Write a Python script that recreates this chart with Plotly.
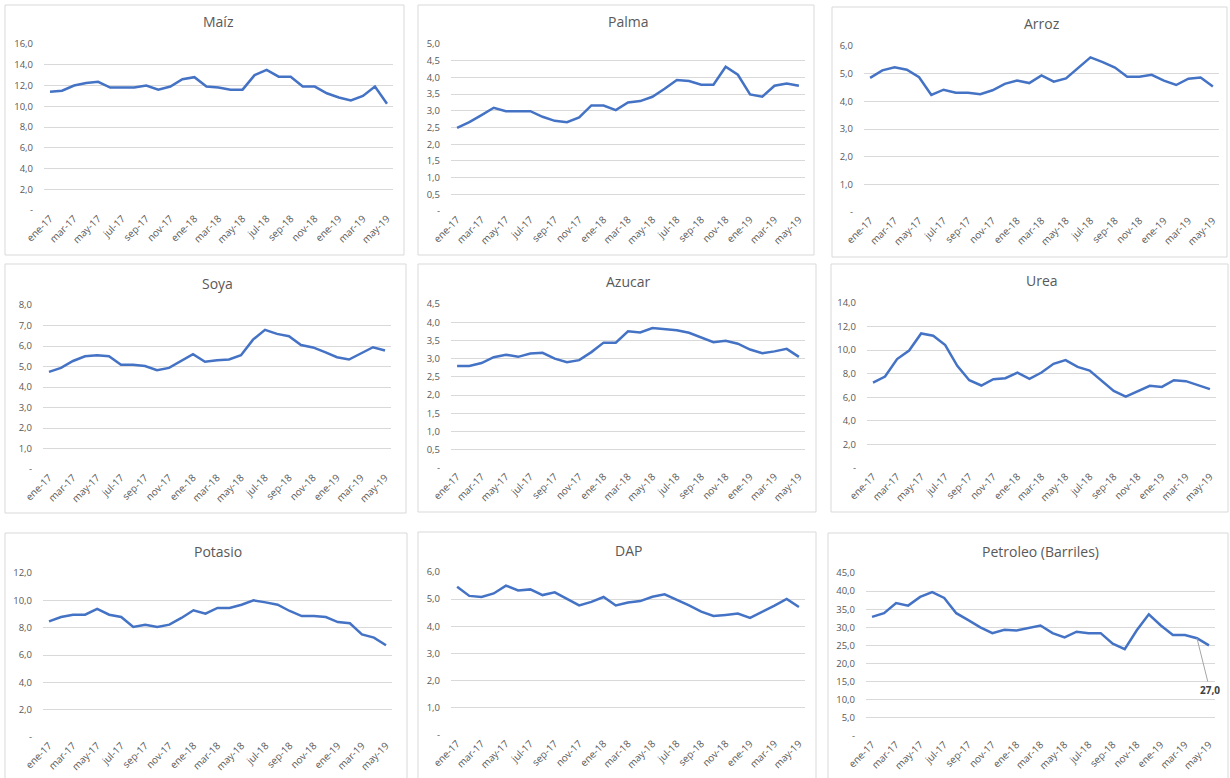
import plotly.graph_objects as go

month_names = ["ene", "feb", "mar", "abr", "may", "jun", "jul", "ago", "sep", "oct", "nov", "dic"]
months = [f"{m}-{y}" for y in ("17", "18") for m in month_names] + [f"{m}-19" for m in month_names[:5]]

maiz = [11.4, 11.5, 12.0, 12.25, 12.35, 11.8, 11.8, 11.8, 12.0, 11.6, 11.9, 12.6, 12.8, 11.9, 11.8,
        11.6, 11.6, 13.0, 13.5, 12.85, 12.85, 11.9, 11.9, 11.25, 10.85, 10.55, 11.0, 11.9, 10.25]
palma = [2.49, 2.66, 2.87, 3.09, 2.99, 2.99, 2.99, 2.82, 2.70, 2.66, 2.80, 3.16, 3.16, 3.02, 3.25,
         3.29, 3.42, 3.66, 3.92, 3.89, 3.78, 3.78, 4.32, 4.08, 3.49, 3.42, 3.75, 3.82, 3.75]
arroz = [4.85, 5.12, 5.23, 5.14, 4.87, 4.23, 4.42, 4.31, 4.31, 4.26, 4.40, 4.63, 4.75, 4.66, 4.94,
         4.71, 4.83, 5.22, 5.59, 5.42, 5.22, 4.89, 4.89, 4.96, 4.75, 4.59, 4.82, 4.86, 4.54]
soya = [4.74, 4.93, 5.27, 5.50, 5.55, 5.50, 5.08, 5.08, 5.02, 4.82, 4.93, 5.27, 5.60, 5.23, 5.31,
        5.34, 5.55, 6.31, 6.79, 6.59, 6.48, 6.05, 5.93, 5.70, 5.45, 5.34, 5.63, 5.94, 5.78]
azucar = [2.80, 2.80, 2.88, 3.04, 3.11, 3.05, 3.14, 3.16, 3.00, 2.90, 2.96, 3.18, 3.44, 3.44, 3.75,
          3.72, 3.84, 3.81, 3.78, 3.71, 3.58, 3.45, 3.49, 3.41, 3.25, 3.15, 3.20, 3.27, 3.05]
urea = [7.25, 7.76, 9.24, 9.97, 11.42, 11.22, 10.43, 8.67, 7.45, 7.00, 7.54, 7.62, 8.10, 7.56, 8.10,
        8.84, 9.15, 8.58, 8.27, 7.42, 6.54, 6.06, 6.52, 6.97, 6.88, 7.45, 7.37, 7.00, 6.69]
potasio = [8.46, 8.78, 8.95, 8.95, 9.37, 8.95, 8.78, 8.05, 8.22, 8.05, 8.22, 8.71, 9.27, 9.02, 9.44,
           9.44, 9.68, 10.0, 9.85, 9.68, 9.22, 8.85, 8.85, 8.78, 8.41, 8.32, 7.51, 7.27, 6.71]
dap = [5.46, 5.12, 5.08, 5.21, 5.50, 5.32, 5.36, 5.15, 5.25, 5.01, 4.77, 4.90, 5.08, 4.77, 4.88,
       4.93, 5.09, 5.18, 4.98, 4.77, 4.54, 4.38, 4.42, 4.47, 4.31, 4.53, 4.76, 5.01, 4.71]
petroleo = [32.9, 33.9, 36.7, 36.0, 38.4, 39.7, 38.1, 33.9, 32.0, 30.0, 28.4, 29.3, 29.1, 29.7, 30.5,
            28.4, 27.2, 28.8, 28.4, 28.4, 25.5, 24.0, 29.2, 33.6, 30.5, 27.9, 27.9, 27.0, 25.0]

titles = ["Maíz", "Palma", "Arroz", "Soya", "Azucar", "Urea", "Potasio", "DAP", "Petroleo (Barriles)"]
series = [maiz, palma, arroz, soya, azucar, urea, potasio, dap, petroleo]
y_max = [16, 5, 6, 8, 4.5, 14, 12, 6, 45]
y_step = [2, 0.5, 1, 1, 0.5, 2, 2, 1, 5]

W, H = 1230, 778
# plot areas in pixels: (left, right, top, bottom)
plot_px = [(44, 393, 44, 210), (451, 805, 44, 211), (864, 1219, 46, 212),
           (43, 391, 305, 469), (451, 805, 304, 468), (867, 1216, 303, 468),
           (43, 392, 573, 737), (451, 805, 572, 735), (866, 1215, 573, 736)]
box_px = [(5, 404, 5, 255), (418, 814, 5, 255), (832, 1227, 7, 257),
          (5, 406, 264, 513), (418, 816, 264, 512), (831, 1228, 264, 512),
          (5, 407, 533, 790), (418, 816, 532, 790), (828, 1228, 533, 790)]

grey = "#595959"
fig = go.Figure()
annotations = []
shapes = []


def fmt(v):
    return "-" if v == 0 else f"{v:.1f}".replace(".", ",")


for i, (name, vals) in enumerate(zip(titles, series)):
    n = i + 1
    xa = "x" if n == 1 else f"x{n}"
    ya = "y" if n == 1 else f"y{n}"
    fig.add_trace(go.Scatter(x=months, y=vals, mode="lines", xaxis=xa, yaxis=ya,
                             line=dict(color="#4472C4", width=2.5), showlegend=False,
                             name=name))
    l, r, t, b = plot_px[i]
    steps = int(round(y_max[i] / y_step[i]))
    ticks = [round(k * y_step[i], 2) for k in range(steps + 1)]
    fig.layout[f"xaxis{'' if n == 1 else n}"] = dict(
        domain=[l / W, r / W], anchor=ya, type="category", range=[-0.5, 28.5],
        tickvals=months[::2], tickangle=-45, showgrid=False, showline=False, zeroline=False,
        automargin=False,
        tickfont=dict(size=10, color=grey, family="Open Sans"), fixedrange=True)
    fig.layout[f"yaxis{'' if n == 1 else n}"] = dict(
        domain=[1 - b / H, 1 - t / H], anchor=xa, range=[0, y_max[i]],
        tickvals=ticks, ticktext=[fmt(v) for v in ticks], showgrid=True,
        gridcolor="#d9d9d9", gridwidth=1, zeroline=False, showline=False,
        ticklabelstandoff=10, automargin=False,
        tickfont=dict(size=9.5, color=grey, family="Open Sans"), fixedrange=True)
    annotations.append(dict(text=name, xref="paper", yref="paper", x=(l + r) / 2 / W,
                            y=1 - (t - 22) / H, xanchor="center", yanchor="middle",
                            showarrow=False, font=dict(size=14, color=grey, family="Open Sans")))
    bl, br, bt, bb = box_px[i]
    shapes.append(dict(type="rect", xref="paper", yref="paper", x0=bl / W, x1=br / W,
                       y0=1 - bb / H, y1=1 - bt / H, line=dict(color="#d9d9d9", width=1)))

# data label on Petroleo
annotations.append(dict(text=f"<b>{fmt(petroleo[27])}</b>", xref="x9", yref="y9",
                        x=months[27], y=petroleo[27], ax=13, ay=52, showarrow=True,
                        arrowhead=0, arrowwidth=1, arrowcolor="#a6a6a6",
                        font=dict(size=10, color="#404040", family="Open Sans")))

fig.update_layout(width=W, height=H, autosize=False, margin=dict(l=0, r=0, t=0, b=0),
                  paper_bgcolor="white", plot_bgcolor="white",
                  annotations=annotations, shapes=shapes)

fig.write_html("out.html", config={"displayModeBar": False},
               post_script="document.body.style.margin='0';document.body.style.overflow='hidden';")
